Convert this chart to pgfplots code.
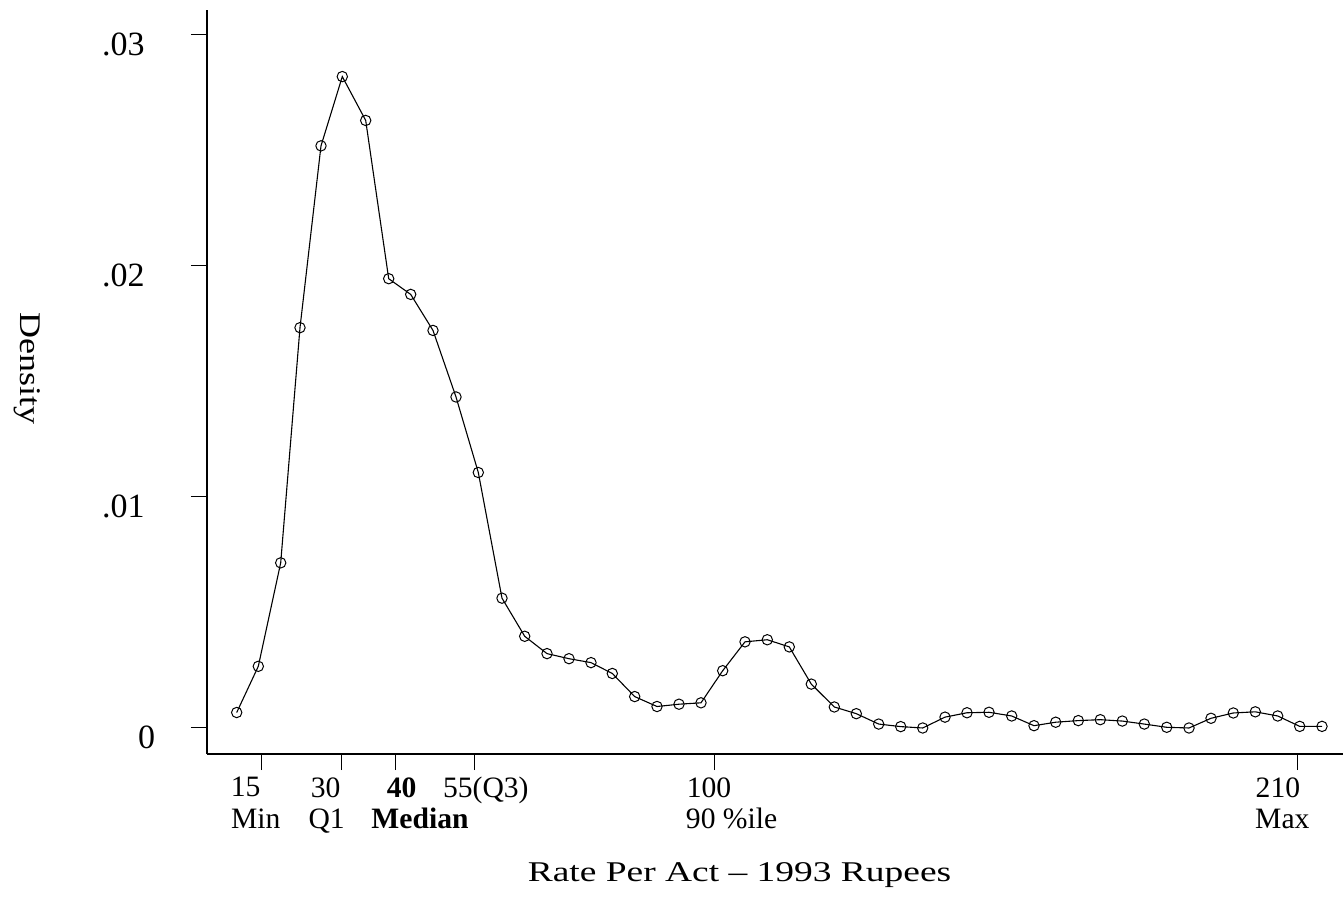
\documentclass[border=0pt]{standalone}
\usepackage{pgfplots}
\pgfplotsset{compat=1.18}
\usepackage{fontspec}
\setmainfont{Liberation Serif}
\newcommand{\lab}[2]{\makebox[0pt]{\hspace*{#1}\hspace*{#1}#2}}
\pgfplotstableread{
x y
236.7 0.00067
258.3 0.00267
280.7 0.00715
300.0 0.01733
321.0 0.02520
342.3 0.02820
365.7 0.02630
388.7 0.01945
410.7 0.01877
433.0 0.01721
456.0 0.01433
478.3 0.01106
502.0 0.00562
524.7 0.00397
547.0 0.00322
569.0 0.00300
591.0 0.00283
612.3 0.00236
634.7 0.00136
657.0 0.00093
679.0 0.00103
701.0 0.00109
722.7 0.00248
745.0 0.00373
767.3 0.00382
789.3 0.00351
811.3 0.00190
834.3 0.00091
856.3 0.00062
878.7 0.00017
900.7 0.00006
922.7 0.00000
945.0 0.00047
967.0 0.00066
989.0 0.00068
1011.7 0.00052
1034.0 0.00010
1055.7 0.00025
1078.3 0.00032
1100.3 0.00036
1122.3 0.00030
1144.3 0.00017
1166.7 0.00003
1189.0 0.00000
1211.0 0.00042
1233.3 0.00065
1255.3 0.00070
1277.7 0.00052
1299.7 0.00007
1322.0 0.00007
}\densitydata
\begin{document}
\begin{tikzpicture}
\path[use as bounding box] (-103.5pt,-73pt) rectangle (568pt,377pt);
\begin{axis}[
  at={(0,0)}, anchor=south west,
  scale only axis, width=568pt, height=372pt,
  xmin=207, xmax=1343,
  ymin=-0.001126, ymax=0.031082,
  axis x line*=bottom, axis y line*=left,
  axis line style={-, line width=0.7pt, black},
  tick align=outside,
  major tick length=8pt,
  tick style={line width=0.5pt, black},
  scaled y ticks=false,
  ytick={0,0.01,0.02,0.03},
  yticklabels={\makebox[3.2pt][l]{0}, .01, .02, .03},
  yticklabel style={anchor=base east, inner sep=0pt, xshift=-23pt, yshift=-10.5pt, font=\fontsize{17}{20}\selectfont},
  xtick={261.7,341.7,395,474,714,1297.5},
  xticklabels={
    {\lab{-8pt}{15}\\\lab{-3pt}{Min}},
    {\lab{-8pt}{30}\\\lab{-7.5pt}{Q1}},
    {\lab{3.3pt}{\textbf{40}}\\\lab{12.5pt}{\textbf{Median}}},
    {\lab{5.9pt}{55(Q3)}\\\lab{0pt}{\strut}},
    {\lab{-2.5pt}{100}\\\lab{8.8pt}{90 \%ile}},
    {\lab{-9.8pt}{210}\\\lab{-7.6pt}{Max}}},
  xticklabel style={anchor=north, inner sep=0pt, yshift=-3.5pt, align=center, font=\fontsize{14.8}{15.75}\selectfont},
  xlabel={\scalebox{1.31}[1]{Rate Per Act -- 1993 Rupees}},
  xlabel style={at={(axis description cs:0.4688,-0.172)}, anchor=base, inner sep=0pt, font=\fontsize{14.3}{18}\selectfont},
  ylabel={\scalebox{1.2}[1]{Density}},
  ylabel style={at={(axis description cs:-0.158,0.5175)}, anchor=center, rotate=180, inner sep=0pt, font=\fontsize{15}{18}\selectfont},
  clip=false,
]
\addplot[black, line width=0.55pt, mark=o, mark size=2.6pt, mark options={line width=0.5pt, solid}] table[x=x, y=y] {\densitydata};
\end{axis}
\end{tikzpicture}
\end{document}
